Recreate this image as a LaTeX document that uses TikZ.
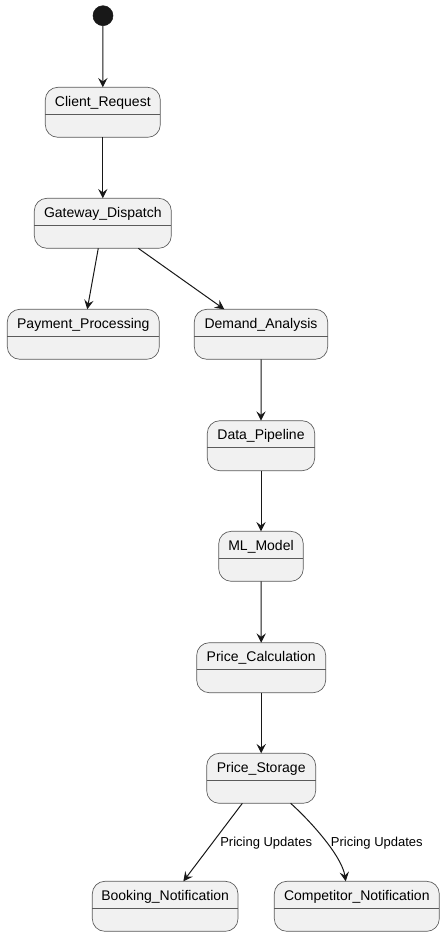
\documentclass[tikz,border=0pt]{standalone}
\usepackage{fontspec}
\setmainfont{Liberation Sans}
\usetikzlibrary{arrows.meta,fit,calc}
\definecolor{sfill}{HTML}{F1F1F1}
\definecolor{sline}{HTML}{181818}
\definecolor{sborder}{HTML}{5A5A5A}
\tikzset{
  sbox/.style={draw=sborder, fill=sfill, line width=0.5pt, rounded corners=9.4pt, inner sep=0pt, outer sep=0pt},
  stxt/.style={inner sep=0pt, font=\fontsize{10.5pt}{12pt}\selectfont, text=black},
  sdiv/.style={draw=sborder, line width=0.5pt},
  conn/.style={draw=sline, line width=0.75pt, -{Stealth[length=7pt,width=7pt,inset=2.6pt]}},
  elab/.style={inner sep=0pt, anchor=west, font=\fontsize{9.75pt}{11pt}\selectfont, text=black},
  startdot/.style={circle, fill=sline, draw=sline, minimum size=15pt, inner sep=0pt, outer sep=0pt}
}
\newcommand{\stbox}[6]{% name, left, top, right, text, textname
  \node[sbox, fit={(#2,#3) (#4,#3+50)}] (#1) {};
  \node[stxt] (#6) at ($(#1.north)+(0,15.2)$) {#5};
  \draw[sdiv] ($(#1.north west)+(0,27)$) -- ($(#1.north east)+(0,27)$);
}
\begin{document}
\begin{tikzpicture}[x=0.75pt, y=-0.75pt]
\useasboundingbox (0,0) rectangle (445,936);
\node[startdot] (start) at (103,15.7) {};
\stbox{cr}{45.3}{87.3}{160.3}{Client\_Request}{crt}
\stbox{gd}{34.3}{198.3}{171.3}{Gateway\_Dispatch}{gdt}
\stbox{pp}{7.3}{309.3}{159.3}{Payment\_Processing}{ppt}
\stbox{da}{194.3}{309.3}{327.7}{Demand\_Analysis}{dat}
\stbox{dp}{207.3}{420.7}{314.7}{Data\_Pipeline}{dpt}
\stbox{ml}{218.7}{531.3}{303.3}{ML\_Model}{mlt}
\stbox{pc}{196.7}{642.7}{325.7}{Price\_Calculation}{pct}
\stbox{ps}{206.7}{753.3}{315.7}{Price\_Storage}{pst}
\stbox{bn}{92.3}{881.3}{238}{Booking\_Notification}{bnt}
\stbox{cn}{274.3}{881.3}{439.3}{Competitor\_Notification}{cnt}

\draw[conn] (start) -- (cr.north);
\draw[conn] (cr.south) -- (gd.north);
\draw[conn] ($(gd.south west)!0.467!(gd.south east)$) -- ($(pp.north west)!0.526!(pp.north east)$);
\draw[conn] ($(gd.south west)!0.759!(gd.south east)$) -- ($(da.north west)!0.225!(da.north east)$);
\draw[conn] ($(da.south west)!0.5!(da.south east)$) -- (dp.north);
\draw[conn] (dp.south) -- (ml.north);
\draw[conn] (ml.south) -- (pc.north);
\draw[conn] (pc.south) -- (ps.north);
\coordinate (psA) at ($(ps.south west)!0.327!(ps.south east)$);
\coordinate (psB) at ($(ps.south west)!0.77!(ps.south east)$);
\coordinate (bnA) at ($(bn.north west)!0.625!(bn.north east)$);
\coordinate (cnA) at ($(cn.north west)!0.433!(cn.north east)$);
\draw[conn] (psA) -- (bnA);
\draw[conn] (psB) .. controls ($(psB)+(18,16)$) and ($(cnA)+(-4,-26)$) .. (cnA);
\node[elab] (l1) at (220,842.7) {Pricing Updates};
\node[elab] (l2) at (330.7,842.7) {Pricing Updates};
\end{tikzpicture}
\end{document}
